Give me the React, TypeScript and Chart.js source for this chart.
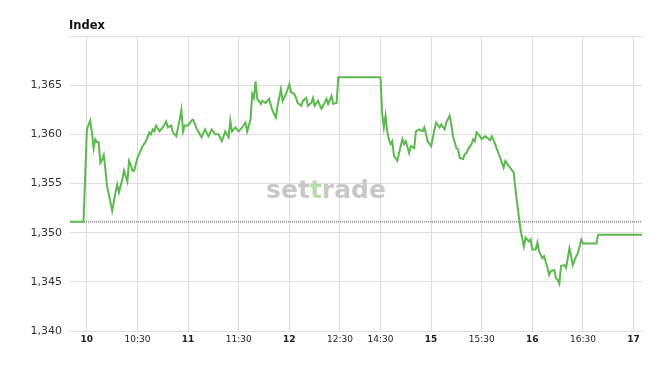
import React, { useEffect, useRef } from "react";
import { Chart, registerables } from "chart.js";

Chart.register(...registerables);

const times: string[] = [
  "09:50","09:58","10:00","10:02","10:03","10:04","10:05","10:06","10:07","10:08","10:09","10:10","10:11","10:12","10:13","10:15","10:17","10:18","10:19","10:21","10:22","10:24","10:25","10:26","10:27","10:28","10:30","10:33","10:35","10:37","10:38","10:39","10:40","10:41","10:43","10:45","10:47","10:48","10:50","10:51","10:53","10:55","10:56","10:57","10:58",
  "11:00","11:02","11:03","11:05","11:06","11:08","11:10","11:12","11:14","11:16","11:18","11:20","11:22","11:24","11:25","11:26","11:28","11:30","11:32","11:34","11:35","11:37","11:38","11:39","11:40","11:41","11:43","11:44","11:46","11:48","11:50","11:52","11:53","11:55","11:56","11:58",
  "12:00","12:01","12:03","12:05","12:07","12:08","12:10","12:11","12:13","12:14","12:15","12:17","12:19","12:20","12:22","12:23","12:25","12:26","12:28","12:29","12:30",
  "14:30","14:31","14:32","14:33","14:34","14:35","14:36","14:37","14:38","14:40","14:41","14:43","14:44","14:45","14:47","14:48","14:50","14:51","14:53","14:55","14:56","14:58",
  "15:00","15:02","15:03","15:05","15:06","15:08","15:09","15:11","15:12","15:13","15:15","15:16","15:17","15:19","15:20","15:21","15:22","15:24","15:25","15:26","15:27","15:29","15:30","15:32","15:33","15:35","15:36","15:38","15:39","15:41","15:43","15:44","15:46","15:49","15:50","15:51","15:53","15:55","15:56","15:58","15:59",
  "16:00","16:02","16:03","16:04","16:06","16:07","16:09","16:10","16:11","16:13","16:14","16:15","16:16","16:17","16:19","16:20","16:21","16:22","16:23","16:24","16:26","16:27","16:28","16:29","16:30","16:38","16:39","17:05",
];

const values: number[] = [
  1351.1,1351.1,1360.5,1361.4,1360.2,1358.6,1359.5,1359.2,1359.2,1357.1,1357.4,1357.9,1356.4,1354.7,1353.9,1352.2,1354.1,1354.9,1354.1,1355.4,1356.3,1355.2,1357.3,1356.9,1356.3,1356.3,1357.6,1358.8,1359.3,1360.2,1360.0,1360.5,1360.3,1360.9,1360.3,1360.7,1361.3,1360.7,1360.9,1360.2,1359.8,1361.5,1362.5,1360.3,1360.9,
  1360.9,1361.4,1361.5,1360.6,1360.3,1359.7,1360.5,1359.8,1360.5,1360.0,1360.0,1359.3,1360.3,1359.7,1361.4,1360.3,1360.7,1360.3,1360.7,1361.2,1360.3,1361.5,1364.1,1363.7,1365.4,1363.6,1363.1,1363.4,1363.2,1363.6,1362.4,1361.7,1362.9,1364.6,1363.4,1364.1,
  1365.1,1364.3,1364.1,1363.2,1362.9,1363.4,1363.7,1362.9,1363.2,1363.7,1362.9,1363.4,1362.6,1362.9,1363.6,1363.1,1363.9,1363.1,1363.2,1365.8,1365.8,
  1365.8,1362.2,1360.7,1361.9,1360.3,1359.5,1359.0,1359.3,1357.8,1357.3,1358.1,1359.5,1359.0,1359.3,1358.1,1358.8,1358.6,1360.3,1360.5,1360.3,1360.7,1359.3,
  1358.8,1360.5,1361.2,1360.7,1361.0,1360.5,1361.2,1361.9,1361.0,1359.8,1358.6,1358.5,1357.6,1357.5,1358.0,1358.1,1358.5,1359.0,1359.5,1359.3,1360.2,1359.8,1359.5,1359.8,1359.7,1359.4,1359.8,1359.0,1358.5,1357.6,1356.6,1357.3,1356.8,1356.1,1354.4,1353.0,1350.3,1348.6,1349.5,1349.1,1349.3,
  1348.3,1348.3,1349.0,1348.1,1347.4,1347.6,1346.4,1345.7,1346.1,1346.2,1345.4,1345.2,1344.8,1346.6,1346.7,1346.4,1347.4,1348.4,1347.6,1346.7,1347.6,1347.9,1348.6,1349.3,1348.9,1348.9,1349.8,1349.8,
];

const previousClose = 1351.1;
const tickTimes: string[] = ["10:00","10:30","11:00","11:30","12:00","12:30","14:30","15:00","15:30","16:00","16:30","17:00"];
const tickLabels: string[] = ["10","10:30","11","11:30","12","12:30","14:30","15","15:30","16","16:30","17"];
const yMin = 1340;
const yMax = 1370;
const yStep = 5;
const title = "Index";
const watermark = ["se", "t", "t", "rade"];

// compressed trading-time axis: lunch break 12:30-14:30 shown narrow
function toAxis(t: string): number {
  const [h, m] = t.split(":").map(Number);
  const min = h * 60 + m;
  if (min <= 750) return min - 600;
  if (min >= 870) return 174 + (min - 870);
  return 150 + ((min - 750) * 24) / 120;
}

const FONT = "'DejaVu Sans', Verdana, sans-serif";

export default function App() {
  const ref = useRef<HTMLCanvasElement | null>(null);
  useEffect(() => {
    if (!ref.current) return;
    const xMin = toAxis(times[0]);
    const xMax = toAxis(times[times.length - 1]);
    const tickVals = tickTimes.map(toAxis);
    const lineData = times.map((t, i) => ({ x: toAxis(t), y: values[i] }));

    const extras = {
      id: "extras",
      beforeDatasetsDraw(chart: any) {
        const { ctx, chartArea } = chart;
        ctx.save();
        ctx.font = `bold 25px ${FONT}`;
        ctx.textBaseline = "alphabetic";
        ctx.textAlign = "left";
        const total = watermark.reduce((s, p) => s + ctx.measureText(p).width, 0);
        let x = 326 - total / 2;
        const colors = ["#c8c8c8", "#c8c8c8", "#b8dcaa", "#c8c8c8"];
        watermark.forEach((p, i) => {
          ctx.fillStyle = colors[i];
          ctx.fillText(p, x, 198);
          x += ctx.measureText(p).width;
        });
        ctx.restore();
      },
      afterDraw(chart: any) {
        const { ctx } = chart;
        ctx.save();
        ctx.font = `bold 11.5px ${FONT}`;
        ctx.fillStyle = "#111";
        ctx.textAlign = "left";
        ctx.textBaseline = "alphabetic";
        ctx.fillText(title, 69, 29);
        ctx.restore();
      },
    };

    const chart = new Chart(ref.current, {
      type: "line",
      data: {
        datasets: [
          {
            data: lineData,
            borderColor: "#5cb94e",
            borderWidth: 2,
            pointRadius: 0,
            tension: 0,
            fill: false,
          },
          {
            data: [
              { x: xMin, y: previousClose },
              { x: xMax, y: previousClose },
            ],
            borderColor: "#555",
            borderWidth: 1,
            borderDash: [1, 1],
            pointRadius: 0,
            fill: false,
          },
        ],
      },
      options: {
        animation: false,
        responsive: false,
        parsing: false as any,
        layout: { padding: { top: 36, right: 28, bottom: 0, left: 0 } },
        plugins: { legend: { display: false }, tooltip: { enabled: false }, title: { display: false } },
        scales: {
          x: {
            type: "linear",
            min: xMin,
            max: xMax,
            border: { display: false },
            grid: { color: "#dddddd", drawTicks: false, lineWidth: 1 },
            afterBuildTicks: (axis: any) => {
              axis.ticks = tickVals.map((v) => ({ value: v }));
            },
            afterFit: (axis: any) => {
              axis.height = 37;
            },
            ticks: {
              autoSkip: false,
              maxRotation: 0,
              padding: 3,
              color: "#222",
              font: (c: any) => {
                const idx = tickVals.indexOf(c.tick ? c.tick.value : NaN);
                const lbl = idx >= 0 ? tickLabels[idx] : "";
                return { family: FONT, size: 9, weight: lbl.includes(":") ? "normal" : "bold" } as any;
              },
              callback: (v: any) => {
                const idx = tickVals.indexOf(Number(v));
                return idx >= 0 ? tickLabels[idx] : "";
              },
            },
          },
          y: {
            min: yMin,
            max: yMax,
            border: { display: false },
            grid: { color: "#dddddd", drawTicks: false, lineWidth: 1 },
            afterFit: (axis: any) => {
              axis.width = 70;
            },
            ticks: {
              stepSize: yStep,
              padding: 8,
              color: "#333",
              font: { family: FONT, size: 11 },
              callback: (v: any) => (Number(v) === yMax ? "" : Number(v).toLocaleString("en-US")),
            },
          },
        },
      },
      plugins: [extras],
    });
    return () => chart.destroy();
  }, []);

  return (
    <div style={{ position: "absolute", left: 0, top: 0, width: 670, height: 368, background: "#fff" }}>
      <canvas ref={ref} width={670} height={368} style={{ display: "block" }} />
    </div>
  );
}
